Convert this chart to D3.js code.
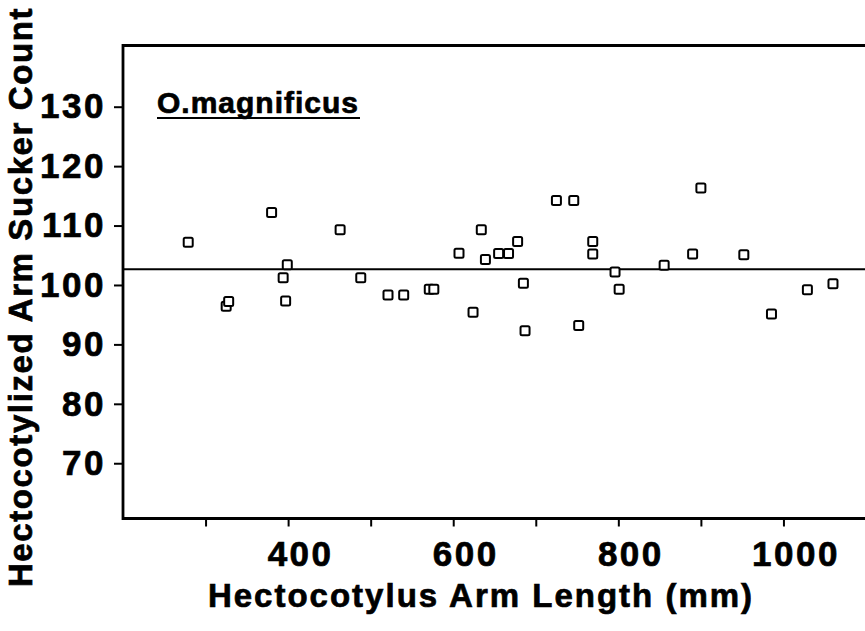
<!DOCTYPE html>
<html>
<head>
<meta charset="utf-8">
<script src="https://cdn.jsdelivr.net/npm/d3@7"></script>
<style>
  html, body { margin: 0; padding: 0; background: #fff; }
  svg { display: block; }
  text { font-family: "Liberation Sans", Arial, Helvetica, sans-serif; font-weight: bold; fill: #000; stroke: #000; stroke-width: 0.7px; }
</style>
</head>
<body>
<svg id="chart" width="865" height="631"></svg>
<script>
// ---- data ----
const armLength = [279, 325, 328, 380, 394, 397, 399, 463, 488, 521, 540, 571, 576.5, 607, 624, 634, 639, 655, 667, 678, 685, 687, 725, 746, 752, 769, 769, 796, 801, 855.5, 890, 900, 952, 985.5, 1029, 1060];
const suckerCount = [107.2, 96.4, 97.2, 112.2, 101.2, 97.3, 103.4, 109.3, 101.2, 98.3, 98.3, 99.3, 99.3, 105.35, 95.4, 109.3, 104.3, 105.3, 105.3, 107.3, 100.3, 92.3, 114.2, 114.2, 93.2, 107.3, 105.2, 102.2, 99.3, 103.3, 105.2, 116.3, 105.1, 95.1, 99.2, 100.2];
const meanCount = [102.66];
const xTickValues = [300, 400, 500, 600, 700, 800, 900, 1000];
const xTickLabels = [400, 600, 800, 1000];
const yTickValues = [70, 80, 90, 100, 110, 120, 130];
const speciesLabel = ["O.magnificus"];
const xTitle = ["Hectocotylus Arm Length (mm)"];
const yTitle = ["Hectocotylized Arm Sucker Count"];

// ---- layout ----
const svg = d3.select("#chart");
const x = d3.scaleLinear().domain([200, 1100]).range([123, 866]);
const y = d3.scaleLinear().domain([60.7, 140.3]).range([518.5, 45.5]);
const pLeft = x.range()[0], pRight = 900, pTop = y.range()[1], pBottom = y.range()[0];

// frame: top, left, bottom
const frame = svg.append("g").attr("stroke", "#000").attr("stroke-width", 2.8).attr("fill", "none");
frame.append("line").attr("x1", pLeft).attr("x2", pRight).attr("y1", pTop).attr("y2", pTop);
frame.append("line").attr("x1", pLeft).attr("x2", pLeft).attr("y1", pTop - 1.4).attr("y2", pBottom + 1.4);
frame.append("line").attr("x1", pLeft).attr("x2", pRight).attr("y1", pBottom).attr("y2", pBottom);

// x axis ticks
const xAxis = d3.axisBottom(x).tickValues(xTickValues).tickSize(8).tickPadding(14)
  .tickFormat(d => xTickLabels.includes(d) ? String(d) : "");
const gx = svg.append("g").attr("transform", `translate(0,${pBottom})`).call(xAxis);
gx.select(".domain").remove();
gx.selectAll(".tick line").attr("stroke", "#000").attr("stroke-width", 2);
gx.selectAll(".tick text")
  .attr("dx", 12).attr("dy", "0.72em")
  .style("font-size", "35px").style("letter-spacing", "2.5px")
  .style("font-family", "'Liberation Sans', Arial, sans-serif").style("font-weight", "bold")
  .attr("fill", "#000").attr("stroke", "#000").attr("stroke-width", 0.7);

// y axis ticks
const yAxis = d3.axisLeft(y).tickValues(yTickValues).tickSize(9).tickPadding(8).tickFormat(d => String(d));
const gy = svg.append("g").attr("transform", `translate(${pLeft},0)`).call(yAxis);
gy.select(".domain").remove();
gy.selectAll(".tick line").attr("stroke", "#000").attr("stroke-width", 2);
gy.selectAll(".tick text")
  .style("font-size", "35px").style("letter-spacing", "2.5px")
  .style("font-family", "'Liberation Sans', Arial, sans-serif").style("font-weight", "bold")
  .attr("fill", "#000").attr("stroke", "#000").attr("stroke-width", 0.7);

// mean line
svg.append("g").selectAll("line").data(meanCount).join("line")
  .attr("x1", pLeft).attr("x2", pRight)
  .attr("y1", d => y(d)).attr("y2", d => y(d))
  .attr("stroke", "#000").attr("stroke-width", 2);

// points (open squares)
const s = 9;
svg.append("g").selectAll("rect").data(armLength.map((v, i) => [v, suckerCount[i]])).join("rect")
  .attr("x", d => x(d[0]) - s / 2).attr("y", d => y(d[1]) - s / 2)
  .attr("width", s).attr("height", s).attr("rx", 1.5)
  .attr("fill", "#fff").attr("stroke", "#000").attr("stroke-width", 2);

// species label with underline
svg.append("text").attr("x", 157).attr("y", 113).style("font-size", "30px")
  .style("letter-spacing", "1px").text(speciesLabel[0]);
svg.append("line").attr("x1", 157).attr("x2", 360).attr("y1", 118).attr("y2", 118)
  .attr("stroke", "#000").attr("stroke-width", 2.2);

// axis titles
svg.append("text").attr("x", 481).attr("y", 607).attr("text-anchor", "middle")
  .style("font-size", "33px").style("letter-spacing", "2px").text(xTitle[0]);
svg.append("text").attr("transform", "translate(32,297) rotate(-90)").attr("text-anchor", "middle")
  .style("font-size", "33px").style("letter-spacing", "1.6px").text(yTitle[0]);
</script>
</body>
</html>
